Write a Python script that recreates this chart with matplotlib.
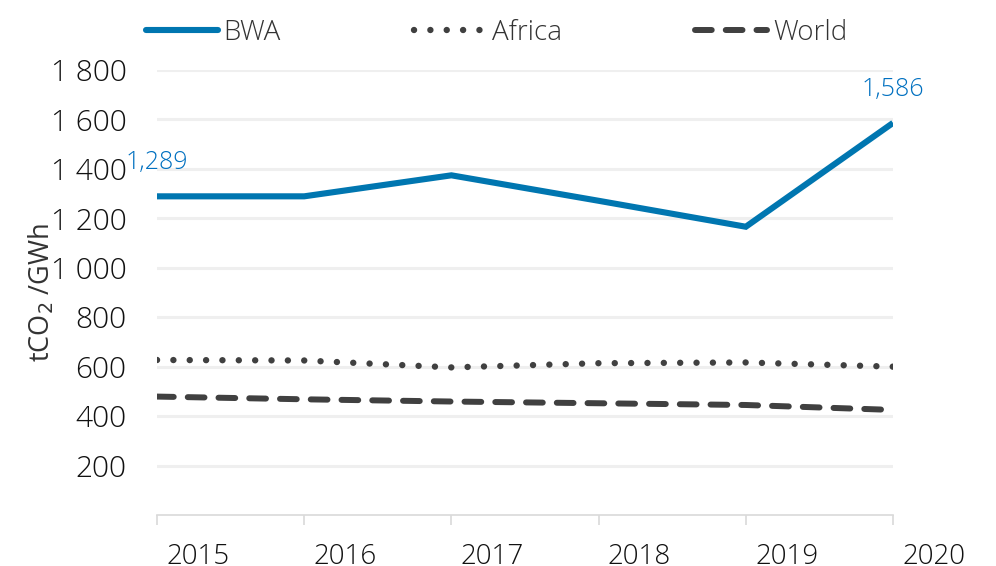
import matplotlib
matplotlib.use("Agg")
import matplotlib.pyplot as plt
import matplotlib.transforms as mtransforms
from matplotlib.ticker import FuncFormatter

years = [2015, 2016, 2017, 2018, 2019, 2020]
bwa = [1289, 1289, 1374, 1271, 1166, 1586]
africa = [627, 625, 597, 614, 617, 600]
world = [479, 468, 459, 452, 445, 425]
yticks = [200, 400, 600, 800, 1000, 1200, 1400, 1600, 1800]

plt.rcParams['font.family'] = ['Open Sans', 'DejaVu Sans']
plt.rcParams['font.weight'] = 300

fig = plt.figure(figsize=(9.96, 5.66), dpi=100)
ax = fig.add_axes([157/996, 1-515/566, (893-157)/996, (515-70)/566])

blue = '#0076B0'
dark = '#404040'

ax.plot(years, bwa, color=blue, lw=4.4, solid_capstyle='butt', solid_joinstyle='miter', label='BWA', zorder=3)
ax.plot(years, africa, color=dark, lw=4.6, linestyle=(0, (0.01, 2.55)), dash_capstyle='round', label='Africa', zorder=3)
ax.plot(years, world, color=dark, lw=4.3, linestyle=(0, (2.8, 2.35)), dash_capstyle='round', label='World', zorder=3)

ax.set_xlim(2015, 2020)
ax.set_ylim(0, 1800)
ax.set_yticks(yticks)
ax.yaxis.set_major_formatter(FuncFormatter(lambda v, p: f"{int(v):,}".replace(',', ' ')))
ax.set_xticks(years)
ax.set_xticklabels([str(y) for y in years])

ax.grid(axis='y', color='#EFEFEF', lw=2.2, zorder=0)
ax.set_axisbelow(True)
for s in ['top', 'right', 'left']:
    ax.spines[s].set_visible(False)
ax.spines['bottom'].set_color('#D9D9D9')
ax.spines['bottom'].set_linewidth(1.2)

ax.tick_params(axis='y', length=0, pad=22, labelsize=21.5, labelcolor='#111111')
ax.tick_params(axis='x', length=7, width=1.2, color='#D9D9D9', direction='out', pad=13, labelsize=20, labelcolor='#111111')

offset = mtransforms.ScaledTranslation(41/100, 0, fig.dpi_scale_trans)
for lbl in ax.get_xticklabels():
    lbl.set_transform(lbl.get_transform() + offset)

ax.set_ylabel('tCO$_2$ /GWh', fontsize=19.5, color='#333333', labelpad=-4)

for i in (0, len(years)-1):
    ax.annotate(f"{bwa[i]:,}", (years[i], bwa[i]), xytext=(0, 24), textcoords='offset points',
                ha='center', va='center', fontsize=18, color='#0070C0', annotation_clip=False)

leg = fig.legend(loc='center', bbox_to_anchor=(0.4985, 0.942), ncol=3, frameon=False,
                 fontsize=20, handlelength=2.6, handletextpad=0.2, columnspacing=4.8,
                 labelcolor='#333333')
for h in leg.legend_handles:
    h.set_solid_capstyle('round')

fig.savefig('out.png', dpi=100)
